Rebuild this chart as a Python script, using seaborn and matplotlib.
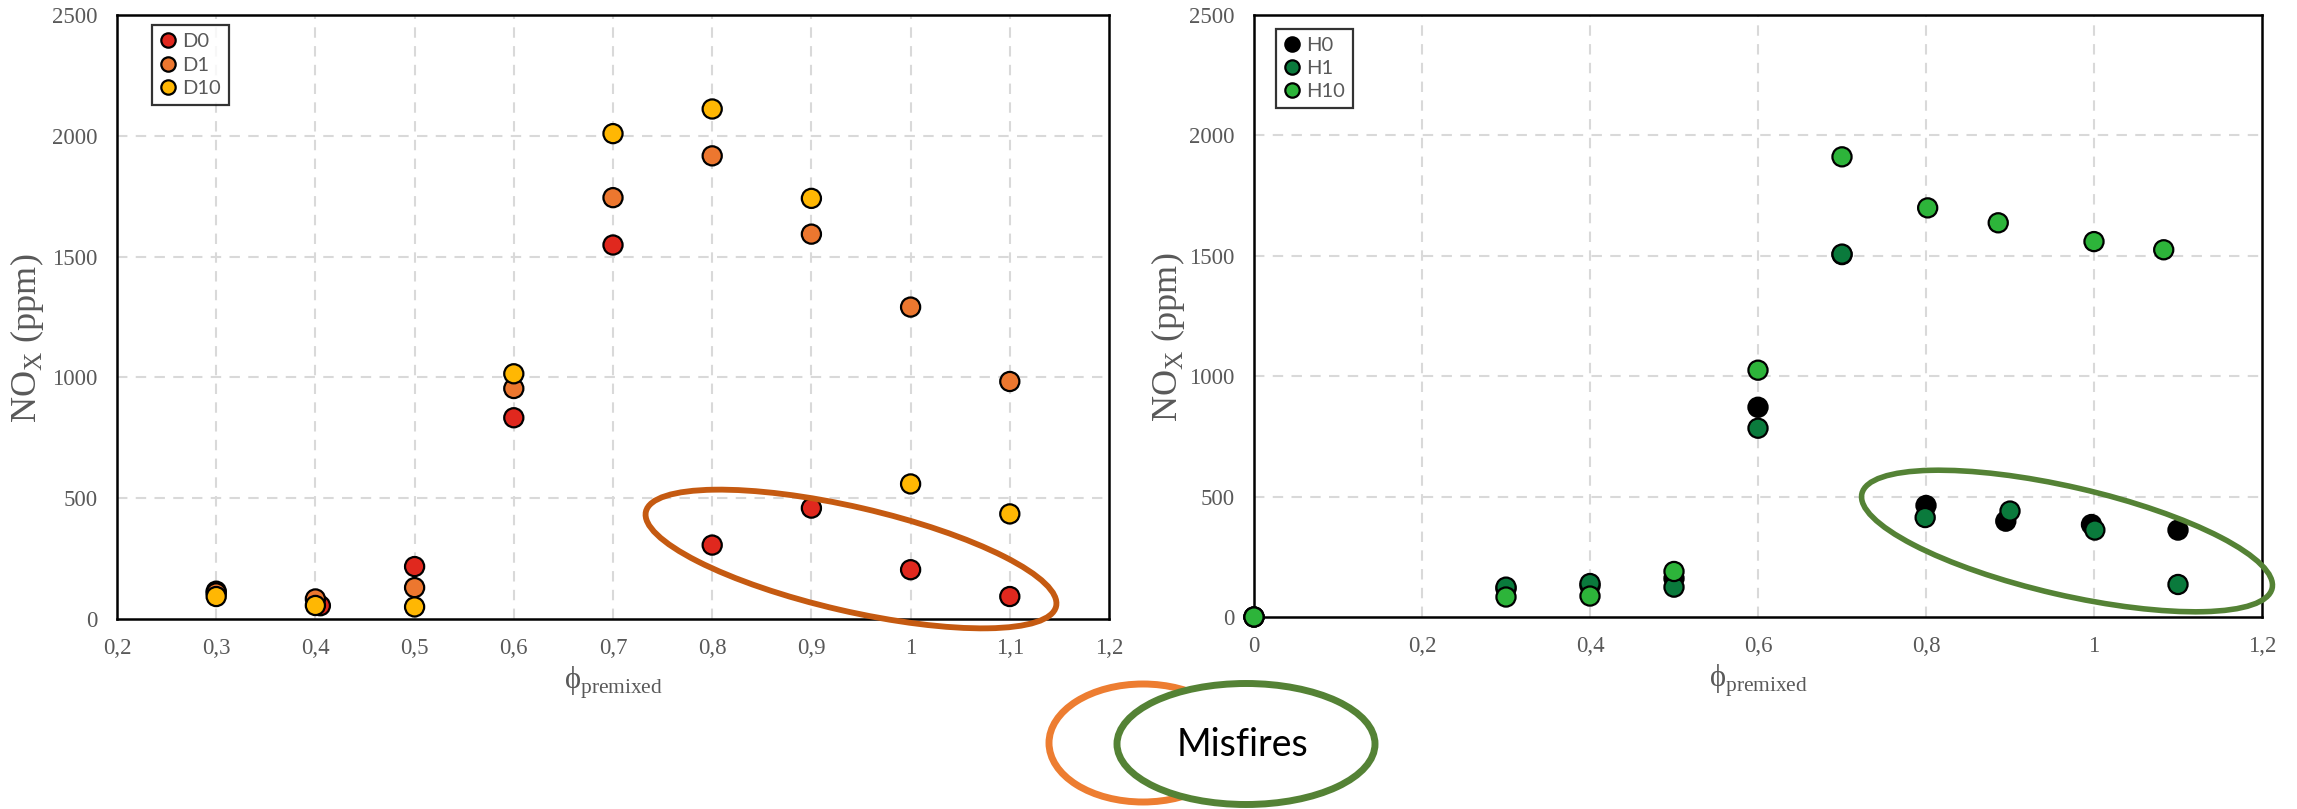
import numpy as np
import pandas as pd
import matplotlib
matplotlib.use("Agg")
import matplotlib.pyplot as plt
import seaborn as sns
from matplotlib.patches import Ellipse

# ---------------- data ----------------
d_series = ["D0", "D1", "D10"]
d0_x = [0.3, 0.405, 0.5, 0.6, 0.7, 0.8, 0.9, 1.0, 1.1]
d0_y = [115, 55, 217, 833, 1548, 306, 459, 204, 93]
d1_x = [0.3, 0.4, 0.5, 0.6, 0.7, 0.8, 0.9, 1.0, 1.1]
d1_y = [108, 83, 130, 954, 1744, 1917, 1593, 1291, 983]
d10_x = [0.3, 0.4, 0.5, 0.6, 0.7, 0.8, 0.9, 1.0, 1.1]
d10_y = [93, 56, 50, 1015, 2009, 2111, 1741, 559, 435]

h_series = ["H0", "H1", "H10"]
h0_x = [0.0, 0.3, 0.4, 0.5, 0.6, 0.7, 0.8, 0.895, 0.997, 1.1]
h0_y = [0, 118, 130, 160, 871, 1505, 463, 398, 384, 361]
h1_x = [0.0, 0.3, 0.4, 0.5, 0.6, 0.7, 0.799, 0.9, 1.001, 1.1]
h1_y = [0, 124, 139, 124, 784, 1507, 413, 440, 361, 135]
h10_x = [0.0, 0.3, 0.4, 0.5, 0.6, 0.7, 0.802, 0.886, 1.0, 1.083]
h10_y = [0, 83, 87, 189, 1025, 1911, 1699, 1637, 1559, 1525]

left_xticks = [0.2, 0.3, 0.4, 0.5, 0.6, 0.7, 0.8, 0.9, 1.0, 1.1, 1.2]
left_xlabels = ["0,2", "0,3", "0,4", "0,5", "0,6", "0,7", "0,8", "0,9", "1", "1,1", "1,2"]
right_xticks = [0.0, 0.2, 0.4, 0.6, 0.8, 1.0, 1.2]
right_xlabels = ["0", "0,2", "0,4", "0,6", "0,8", "1", "1,2"]
yticks = [0, 500, 1000, 1500, 2000, 2500]
ylabels = ["0", "500", "1000", "1500", "2000", "2500"]
annotation_text = "Misfires"

d_colors = ["#E0281E", "#EC772F", "#FFB703"]
h_colors = ["#000000", "#0A7A3C", "#2DB43A"]

df_d = pd.DataFrame({
    "x": d0_x + d1_x + d10_x,
    "y": d0_y + d1_y + d10_y,
    "s": ["D0"] * len(d0_x) + ["D1"] * len(d1_x) + ["D10"] * len(d10_x),
})
df_h = pd.DataFrame({
    "x": h0_x + h1_x + h10_x,
    "y": h0_y + h1_y + h10_y,
    "s": ["H0"] * len(h0_x) + ["H1"] * len(h1_x) + ["H10"] * len(h10_x),
})

# ---------------- style ----------------
sns.set_theme(style="white")
plt.rcParams["font.family"] = ["Liberation Serif", "DejaVu Serif"]
plt.rcParams["mathtext.fontset"] = "custom"
plt.rcParams["mathtext.rm"] = "Liberation Serif"

W, H = 2297, 809
DPI = 100
fig = plt.figure(figsize=(W / DPI, H / DPI), dpi=DPI)

GREY = "#595959"
GRID = "#D9D9D9"


def px_axes(l, t, r, b):
    return [l / W, (H - b) / H, (r - l) / W, (b - t) / H]


ax1 = fig.add_axes(px_axes(117, 15, 1109, 619))
ax2 = fig.add_axes(px_axes(1254, 15, 2262, 617))


def style_axes(ax, xticks, xlabels, xlim, grid_x, legend_anchor, ylab_x):
    ax.set_xlim(*xlim)
    ax.set_ylim(0, 2500)
    ax.set_xticks(xticks)
    ax.set_xticklabels(xlabels)
    ax.set_yticks(yticks)
    ax.set_yticklabels(ylabels)
    ax.tick_params(axis="both", length=0, labelsize=16.5, labelcolor=GREY)
    ax.tick_params(axis="x", pad=14)
    ax.tick_params(axis="y", pad=14)
    for sp in ax.spines.values():
        sp.set_color("black")
        sp.set_linewidth(1.8)
        sp.set_visible(True)
    for gx in grid_x:
        ax.axvline(gx, color=GRID, lw=1.5, ls=(0, (5, 4)), zorder=0)
    for gy in [500, 1000, 1500, 2000]:
        ax.axhline(gy, color=GRID, lw=1.5, ls=(0, (5, 4)), zorder=0)
    ax.set_xlabel("ϕ$_\\mathregular{premixed}$", fontsize=22, color=GREY, labelpad=4)
    ax.set_ylabel("NO$_\\mathregular{X}$ (ppm)", fontsize=26, color=GREY)
    ax.yaxis.set_label_coords(ylab_x, 0.465)
    handles, labels = ax.get_legend_handles_labels()
    leg = ax.legend(handles, labels, loc="upper left", bbox_to_anchor=legend_anchor,
                    borderaxespad=0, frameon=True, fancybox=False, markerscale=0.75,
                    handlelength=0.8, handletextpad=0.3, labelspacing=0.3,
                    borderpad=0.4, prop={"family": "Lato", "size": 14.5})
    leg.get_frame().set_edgecolor("black")
    leg.get_frame().set_linewidth(1.6)
    for t in leg.get_texts():
        t.set_color(GREY)


sns.scatterplot(data=df_d, x="x", y="y", hue="s", hue_order=d_series, palette=d_colors,
                s=190, edgecolor="black", linewidth=1.6, ax=ax1, zorder=3, clip_on=False)
sns.scatterplot(data=df_h, x="x", y="y", hue="s", hue_order=h_series, palette=h_colors,
                s=190, edgecolor="black", linewidth=1.6, ax=ax2, zorder=3, clip_on=False)

style_axes(ax1, left_xticks, left_xlabels, (0.2, 1.2),
           [0.3, 0.4, 0.5, 0.6, 0.7, 0.8, 0.9, 1.0, 1.1], (0.035, 0.983), -0.072)
style_axes(ax2, right_xticks, right_xlabels, (0.0, 1.2),
           [0.2, 0.4, 0.6, 0.8, 1.0], (0.022, 0.977), -0.066)


# ---------------- annotations (pixel positions -> inches) ----------------
def pin(x, y):
    return (x / DPI, (H - y) / DPI)


tr = fig.dpi_scale_trans
fig.add_artist(Ellipse(pin(851, 559), 4.21, 1.04, angle=-13, fill=False,
                       edgecolor="#C55A11", lw=4.2, transform=tr, zorder=10))
fig.add_artist(Ellipse(pin(2067, 541), 4.21, 1.08, angle=-13, fill=False,
                       edgecolor="#548235", lw=4.0, transform=tr, zorder=10))
fig.add_artist(Ellipse(pin(1143, 743), 1.88, 1.18, angle=0, fill=False,
                       edgecolor="#ED7D31", lw=5, transform=tr, zorder=10))
fig.add_artist(Ellipse(pin(1246, 744), 2.58, 1.21, angle=0, facecolor="white",
                       edgecolor="#548235", lw=5, transform=tr, zorder=11))
fig.text(12.43 / (W / DPI), (H - 745) / H, annotation_text, ha="center", va="center",
         fontsize=27, family="Lato", color="black", zorder=12)

fig.savefig("out.png", dpi=DPI)
